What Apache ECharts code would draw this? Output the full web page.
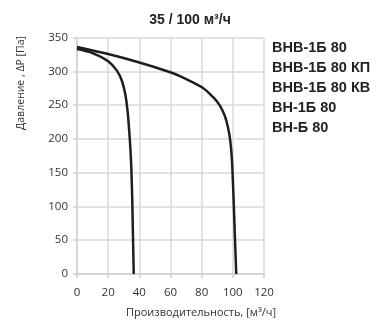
<!DOCTYPE html>
<html><head><meta charset="utf-8">
<script src="https://cdn.jsdelivr.net/npm/echarts@6/dist/echarts.min.js"></script>
<style>html,body{margin:0;padding:0;background:#fff}#c{width:376px;height:323px}</style>
</head><body><div id="c"></div>
<script>
var titleText = '35 / 100 м³/ч';
var xAxisName = 'Производительность, [м³/ч]';
var yAxisName = 'Давление , ΔР [Па]';
var legendLabels = ['ВНВ-1Б 80', 'ВНВ-1Б 80 КП', 'ВНВ-1Б 80 КВ', 'ВН-1Б 80', 'ВН-Б 80'];
var curveSmall = [[0,333],[10,327],[20,315],[25.6,301],[28.8,286],[31,266],[32.5,240],[33.4,215],[34.2,188],[34.8,160],[35.4,115],[35.9,58],[36.4,0]];
var curveLarge = [[0,336],[20,325.5],[40,313],[59.4,299],[66,293],[80.4,276],[87.2,262],[91.5,250],[94.7,235],[96.8,218],[98.3,198],[99.4,170],[100.5,110],[101.4,50],[102.2,0]];

var chart = echarts.init(document.getElementById('c'));
var textColor = '#333';
var font = '"Open Sans", sans-serif';
var graphics = [];
legendLabels.forEach(function(t, i){
  graphics.push({type:'text', left:272, top:40 + i*20,
    style:{text:t, font:'bold 14.5px "Liberation Sans", Arial, sans-serif', fill:'#222'}});
});
graphics.push({type:'text', x:201, y:313,
  style:{text:xAxisName, font:'11px ' + font, fill:textColor, align:'center', verticalAlign:'middle'}});
graphics.push({type:'text', x:21, y:83, rotation:Math.PI/2,
  style:{text:yAxisName, font:'10.5px ' + font, fill:textColor, align:'center', verticalAlign:'middle'}});
chart.setOption({
  animation:false,
  title:{text:titleText, left:185, top:8, textAlign:'center',
    textStyle:{fontFamily:'"Liberation Sans", Arial, sans-serif', fontWeight:'bold', fontSize:14, color:'#222'}},
  grid:{left:77, right:112, top:37.5, bottom:49},
  xAxis:{type:'value', min:0, max:120, interval:20,
    axisLine:{show:true, lineStyle:{color:'#d0d0d0', width:1.5}},
    axisTick:{show:true, length:4, lineStyle:{color:'#d0d0d0', width:1.5}},
    axisLabel:{fontFamily:font, fontSize:11.5, color:textColor, margin:13},
    splitLine:{show:true, lineStyle:{color:'#d9d9d9', width:1.5}}},
  yAxis:{type:'value', min:0, max:350, interval:50,
    axisLine:{show:true, lineStyle:{color:'#d0d0d0', width:1.5}},
    axisTick:{show:true, length:4, lineStyle:{color:'#d0d0d0', width:1.5}},
    axisLabel:{fontFamily:font, fontSize:11.5, color:textColor, margin:9},
    splitLine:{show:true, lineStyle:{color:'#d9d9d9', width:1.5}}},
  graphic: graphics,
  series:[
    {type:'line', data:curveSmall, smooth:0.3, showSymbol:false, lineStyle:{color:'#1e1e1e', width:2.5}},
    {type:'line', data:curveLarge, smooth:0.3, showSymbol:false, lineStyle:{color:'#1e1e1e', width:2.5}}
  ]
});
</script></body></html>
